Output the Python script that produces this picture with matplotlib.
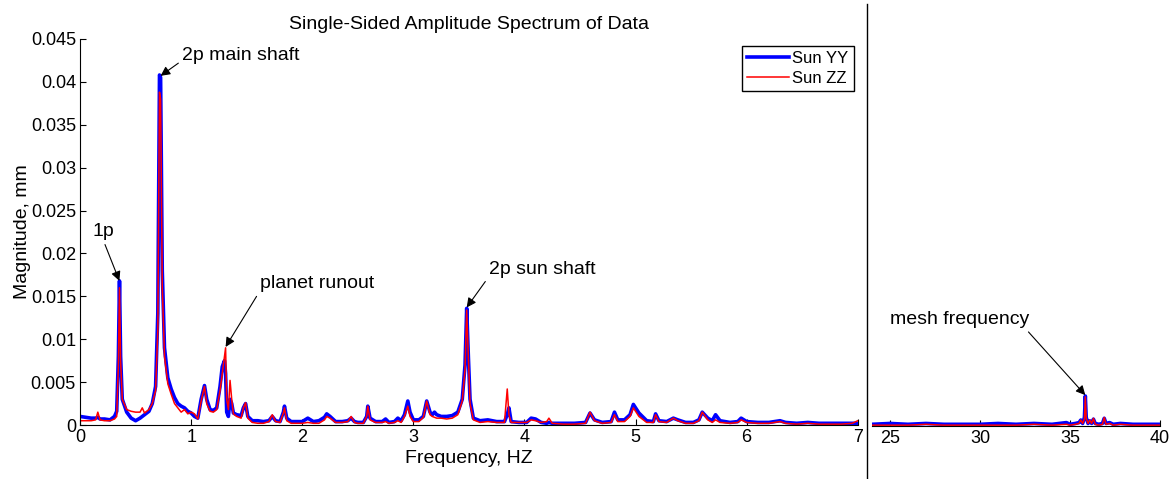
import matplotlib.pyplot as plt

plt.rcParams['font.family'] = ['Liberation Sans', 'DejaVu Sans']
plt.rcParams['font.size'] = 13

# low frequency band, Hz
freq_low = [0.00, 0.05, 0.10, 0.14, 0.16, 0.18, 0.22, 0.27, 0.31, 0.33, 0.345, 0.355,
            0.365, 0.38, 0.42, 0.46, 0.50, 0.54, 0.56, 0.58, 0.62, 0.65, 0.68, 0.70,
            0.715, 0.725, 0.74, 0.76, 0.79, 0.82, 0.85, 0.88, 0.91, 0.94, 0.97, 1.00,
            1.03, 1.06, 1.09, 1.12, 1.14, 1.17, 1.20, 1.23, 1.26, 1.28, 1.30, 1.31,
            1.32, 1.335, 1.35, 1.365, 1.38, 1.41, 1.45, 1.47, 1.49, 1.51, 1.55, 1.60,
            1.65, 1.70, 1.73, 1.76, 1.80, 1.83, 1.84, 1.86, 1.90, 1.95, 2.00, 2.05,
            2.10, 2.15, 2.20, 2.22, 2.25, 2.30, 2.36, 2.41, 2.44, 2.47, 2.50, 2.55,
            2.58, 2.59, 2.61, 2.66, 2.72, 2.75, 2.78, 2.83, 2.86, 2.89, 2.92, 2.95,
            2.97, 3.00, 3.05, 3.09, 3.12, 3.15, 3.17, 3.19, 3.21, 3.25, 3.30, 3.35,
            3.40, 3.44, 3.465, 3.48, 3.495, 3.51, 3.54, 3.60, 3.67, 3.75, 3.82, 3.845,
            3.86, 3.88, 3.95, 4.02, 4.06, 4.10, 4.15, 4.20, 4.22, 4.25, 4.35, 4.45,
            4.55, 4.59, 4.63, 4.70, 4.78, 4.81, 4.84, 4.90, 4.95, 4.98, 5.03, 5.10,
            5.16, 5.18, 5.21, 5.28, 5.34, 5.38, 5.45, 5.52, 5.57, 5.60, 5.65, 5.69,
            5.72, 5.76, 5.85, 5.92, 5.95, 6.00, 6.10, 6.20, 6.25, 6.30, 6.35, 6.45,
            6.55, 6.65, 6.75, 6.85, 6.95, 7.00]

sun_yy_low = [0.0010, 0.0009, 0.0008, 0.0008, 0.0009, 0.0007, 0.0007, 0.0006, 0.0010, 0.0016, 0.0080, 0.0168,
              0.0080, 0.0030, 0.0015, 0.0008, 0.0005, 0.0008, 0.0010, 0.0012, 0.0016, 0.0025, 0.0045, 0.0130,
              0.0408, 0.0405, 0.0180, 0.0090, 0.0055, 0.0042, 0.0032, 0.0025, 0.0022, 0.0020, 0.0016, 0.0014,
              0.0010, 0.0008, 0.0030, 0.0046, 0.0030, 0.0018, 0.0017, 0.0020, 0.0045, 0.0068, 0.0075, 0.0060,
              0.0015, 0.0010, 0.0030, 0.0025, 0.0014, 0.0012, 0.0011, 0.0020, 0.0025, 0.0010, 0.0005, 0.0005,
              0.0004, 0.0005, 0.0010, 0.0005, 0.0004, 0.0015, 0.0022, 0.0008, 0.0004, 0.0004, 0.0004, 0.0008,
              0.0004, 0.0005, 0.0009, 0.0013, 0.0010, 0.0004, 0.0004, 0.0005, 0.0008, 0.0004, 0.0003, 0.0003,
              0.0010, 0.0022, 0.0008, 0.0004, 0.0004, 0.0007, 0.0003, 0.0004, 0.0008, 0.0005, 0.0012, 0.0028,
              0.0015, 0.0006, 0.0006, 0.0010, 0.0028, 0.0015, 0.0012, 0.0015, 0.0012, 0.0010, 0.0010, 0.0011,
              0.0015, 0.0030, 0.0070, 0.0136, 0.0080, 0.0030, 0.0008, 0.0005, 0.0006, 0.0004, 0.0004, 0.0012,
              0.0020, 0.0004, 0.0003, 0.0003, 0.0008, 0.0007, 0.0003, 0.0002, 0.0003, 0.0002, 0.0002, 0.0002,
              0.0003, 0.0014, 0.0006, 0.0003, 0.0004, 0.0015, 0.0006, 0.0006, 0.0012, 0.0024, 0.0014, 0.0005,
              0.0004, 0.0013, 0.0005, 0.0004, 0.0008, 0.0006, 0.0003, 0.0003, 0.0006, 0.0015, 0.0008, 0.0005,
              0.0012, 0.0005, 0.0003, 0.0004, 0.0008, 0.0004, 0.0003, 0.0003, 0.0004, 0.0005, 0.0003, 0.0002,
              0.0003, 0.0002, 0.0002, 0.0002, 0.0002, 0.0002]

sun_zz_low = [0.0005, 0.0005, 0.0005, 0.0006, 0.0015, 0.0006, 0.0005, 0.0005, 0.0007, 0.0010, 0.0070, 0.0160,
              0.0075, 0.0030, 0.0018, 0.0016, 0.0015, 0.0015, 0.0020, 0.0014, 0.0018, 0.0025, 0.0040, 0.0110,
              0.0388, 0.0380, 0.0160, 0.0080, 0.0048, 0.0036, 0.0025, 0.0020, 0.0015, 0.0018, 0.0013, 0.0015,
              0.0013, 0.0007, 0.0028, 0.0045, 0.0025, 0.0016, 0.0015, 0.0018, 0.0040, 0.0060, 0.0080, 0.0090,
              0.0030, 0.0018, 0.0052, 0.0030, 0.0013, 0.0010, 0.0008, 0.0020, 0.0026, 0.0008, 0.0003, 0.0002,
              0.0002, 0.0004, 0.0012, 0.0004, 0.0003, 0.0014, 0.0020, 0.0005, 0.0002, 0.0002, 0.0002, 0.0003,
              0.0002, 0.0002, 0.0006, 0.0010, 0.0008, 0.0003, 0.0003, 0.0004, 0.0010, 0.0003, 0.0002, 0.0002,
              0.0010, 0.0022, 0.0006, 0.0003, 0.0003, 0.0004, 0.0002, 0.0003, 0.0005, 0.0003, 0.0010, 0.0022,
              0.0010, 0.0004, 0.0004, 0.0009, 0.0028, 0.0012, 0.0010, 0.0009, 0.0008, 0.0008, 0.0007, 0.0008,
              0.0012, 0.0028, 0.0065, 0.0134, 0.0080, 0.0025, 0.0006, 0.0003, 0.0004, 0.0003, 0.0003, 0.0042,
              0.0012, 0.0003, 0.0003, 0.0003, 0.0006, 0.0005, 0.0003, 0.0004, 0.0008, 0.0002, 0.0001, 0.0001,
              0.0002, 0.0015, 0.0005, 0.0002, 0.0003, 0.0012, 0.0004, 0.0004, 0.0010, 0.0020, 0.0010, 0.0003,
              0.0003, 0.0012, 0.0004, 0.0003, 0.0008, 0.0005, 0.0002, 0.0002, 0.0005, 0.0015, 0.0006, 0.0003,
              0.0006, 0.0003, 0.0002, 0.0003, 0.0006, 0.0003, 0.0002, 0.0002, 0.0003, 0.0004, 0.0002, 0.0001,
              0.0002, 0.0001, 0.0001, 0.0001, 0.0002, 0.0005]

# mesh band, Hz
freq_high = [24.0, 25.0, 26.0, 27.0, 28.0, 29.0, 30.0, 31.0, 32.0, 33.0, 34.0, 34.8,
             35.0, 35.3, 35.5, 35.6, 35.7, 35.8, 35.85, 35.9, 36.0, 36.1, 36.2, 36.3,
             36.4, 36.6, 36.8, 36.9, 37.0, 37.2, 37.4, 37.8, 38.5, 39.0, 40.0]

sun_yy_high = [0.0002, 0.0003, 0.0002, 0.0003, 0.0002, 0.0002, 0.0002, 0.0003, 0.0002, 0.0003, 0.0002, 0.0004,
               0.0002, 0.0003, 0.0004, 0.0007, 0.0003, 0.0010, 0.0035, 0.0010, 0.0003, 0.0006, 0.0003, 0.0008,
               0.0003, 0.0002, 0.0003, 0.0009, 0.0003, 0.0004, 0.0002, 0.0003, 0.0002, 0.0002, 0.0002]

sun_zz_high = [0.0001, 0.0001, 0.0001, 0.0002, 0.0001, 0.0001, 0.0001, 0.0001, 0.0001, 0.0002, 0.0001, 0.0002,
               0.0001, 0.0002, 0.0003, 0.0007, 0.0003, 0.0008, 0.0034, 0.0009, 0.0003, 0.0007, 0.0003, 0.0009,
               0.0002, 0.0001, 0.0002, 0.0010, 0.0002, 0.0003, 0.0001, 0.0002, 0.0001, 0.0001, 0.0001]

yticks = [0, 0.005, 0.01, 0.015, 0.02, 0.025, 0.03, 0.035, 0.04, 0.045]

fig = plt.figure(figsize=(11.72, 4.79), dpi=100)
ax = fig.add_axes([0.0683, 0.1127, 0.6636, 0.806])
ax2 = fig.add_axes([0.744, 0.1106, 0.2458, 0.806])

ax.plot(freq_low, sun_yy_low, color='#0000ff', lw=2.6, label='Sun YY')
ax.plot(freq_low, sun_zz_low, color='#ff0000', lw=1.1, label='Sun ZZ')
ax2.plot(freq_high, sun_yy_high, color='#0000ff', lw=2.6)
ax2.plot(freq_high, sun_zz_high, color='#ff0000', lw=1.1)

ax.set_xlim(0, 7)
ax.set_ylim(0, 0.045)
ax.set_yticks(yticks)
ax.set_yticklabels([f'{v:g}' for v in yticks])
ax.set_xticks(range(8))
ax.spines['top'].set_visible(False)
ax.spines['right'].set_visible(False)
ax.tick_params(direction='in', length=4, pad=3)
ax.set_xlabel('Frequency, HZ', fontsize=14, labelpad=3)
ax.set_ylabel('Magnitude, mm', fontsize=14, labelpad=0)
ax.set_title('Single-Sided Amplitude Spectrum of Data', fontsize=14, pad=7)
leg = ax.legend(loc='upper right', bbox_to_anchor=(0.999, 0.99), fancybox=False, fontsize=12,
                edgecolor='black', framealpha=1, handlelength=2.5, handletextpad=0.2,
                borderpad=0.3, labelspacing=0.3, borderaxespad=0.2)
leg.get_frame().set_linewidth(1.0)

ax2.set_xlim(24, 40)
ax2.set_ylim(0, 0.045)
ax2.set_xticks([25, 30, 35, 40])
ax2.set_yticks([])
for s in ['top', 'right', 'left']:
    ax2.spines[s].set_visible(False)
ax2.tick_params(direction='in', length=4, pad=3)


def arrow(rel):
    return dict(arrowstyle='-|>', color='black', lw=0.8, mutation_scale=14,
                shrinkA=1, shrinkB=0, relpos=rel)


ax.annotate('1p', xy=(0.354, 0.0168), xytext=(0.21, 0.0225), ha='center', va='center',
            fontsize=14, arrowprops=arrow((0.5, 0.0)))
ax.annotate('2p main shaft', xy=(0.725, 0.0407), xytext=(0.92, 0.0431), ha='left', va='center',
            fontsize=14, arrowprops=arrow((0.0, 0.2)))
ax.annotate('planet runout', xy=(1.31, 0.0091), xytext=(1.62, 0.01645), ha='left', va='center',
            fontsize=14, arrowprops=arrow((0.0, 0.1)))
ax.annotate('2p sun shaft', xy=(3.48, 0.0137), xytext=(3.68, 0.0181), ha='left', va='center',
            fontsize=14, arrowprops=arrow((0.0, 0.1)))
ax2.annotate('mesh frequency', xy=(35.85, 0.0036), xytext=(25.0, 0.0124), ha='left', va='center',
             fontsize=14, arrowprops=arrow((0.97, 0.0)))

fig.add_artist(plt.Line2D([0.7395, 0.7395], [0.0, 0.992], color='black', lw=1.0))

fig.savefig('out.png', dpi=100)
